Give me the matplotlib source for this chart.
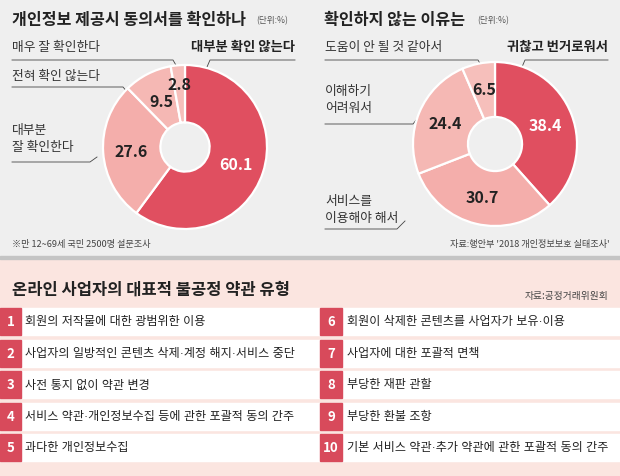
import matplotlib.pyplot as plt
from matplotlib.patches import Rectangle

plt.rcParams['font.family'] = ['Noto Sans CJK KR', 'DejaVu Sans']

# --- Data ---
left_labels = ['대부분 확인 않는다', '대부분\n잘 확인한다', '전혀 확인 않는다', '매우 잘 확인한다']
left_values = [60.1, 27.6, 9.5, 2.8]

right_labels = ['귀찮고 번거로워서', '서비스를\n이용해야 해서', '이해하기\n어려워서', '도움이 안 될 것 같아서']
right_values = [38.4, 30.7, 24.4, 6.5]

terms_left = ['회원의 저작물에 대한 광범위한 이용',
              '사업자의 일방적인 콘텐츠 삭제·계정 해지·서비스 중단',
              '사전 통지 없이 약관 변경',
              '서비스 약관·개인정보수집 등에 관한 포괄적 동의 간주',
              '과다한 개인정보수집']
terms_right = ['회원이 삭제한 콘텐츠를 사업자가 보유·이용',
               '사업자에 대한 포괄적 면책',
               '부당한 재판 관할',
               '부당한 환불 조항',
               '기본 서비스 약관·추가 약관에 관한 포괄적 동의 간주']

# --- Style ---
W, H = 620, 477
RED = '#e04f60'
BOX_RED = '#d84a5b'
PINKS = ['#f4aeab', '#f5b8b4', '#f6bfbb']
GRAY_BG = '#efefef'
PINK_BG = '#fbe5e0'
LINE = '#444444'
TXT = '#222222'
ROW_FONT = ['Liberation Sans', 'Noto Sans CJK KR']

fig = plt.figure(figsize=(W / 100, H / 100), dpi=100)
ax = fig.add_axes([0, 0, 1, 1])
ax.set_xlim(0, W)
ax.set_ylim(H, 0)
ax.axis('off')

# backgrounds
ax.add_patch(Rectangle((0, 0), W, 258, color=GRAY_BG, zorder=0))
ax.add_patch(Rectangle((0, 257), W, 3, color='#c4c4c4', zorder=1))
ax.add_patch(Rectangle((0, 260), W, H - 260, color=PINK_BG, zorder=0))


def donut(cx, cy, r, values, hole, dists):
    pax = fig.add_axes([(cx - r) / W, (H - cy - r) / H, 2 * r / W, 2 * r / H])
    colors = [RED] + PINKS
    wedges, _, autotexts = pax.pie(
        values, colors=colors, startangle=90, counterclock=False,
        radius=1, autopct=lambda p: '', pctdistance=1.0,
        wedgeprops=dict(width=1 - hole, edgecolor='white', linewidth=1.6))
    for i, (t, v) in enumerate(zip(autotexts, values)):
        x, y = t.get_position()
        t.set_position((x * dists[i], y * dists[i]))
        t.set_text(f'{v:.1f}')
        t.set_fontsize(11.5)
        t.set_fontweight('bold')
        t.set_color('white' if i == 0 else '#222222')
    pax.set_xlim(-1, 1)
    pax.set_ylim(-1, 1)
    pax.axis('off')


donut(185, 148, 82, left_values, 0.30, [0.66, 0.66, 0.63, 0.77])
donut(495, 145, 82, right_values, 0.33, [0.66, 0.66, 0.66, 0.68])

# titles
ax.text(12, 20, '개인정보 제공시 동의서를 확인하나', fontsize=11.6, fontweight='bold',
        color=TXT, va='center')
ax.text(256, 21, '(단위:%)', fontsize=6.2, color='#555555', va='center')
ax.text(324, 20, '확인하지 않는 이유는', fontsize=11.6, fontweight='bold',
        color=TXT, va='center')
ax.text(477, 21, '(단위:%)', fontsize=6.2, color='#555555', va='center')


def leader(pts):
    xs, ys = zip(*pts)
    ax.plot(xs, ys, color=LINE, lw=0.6, zorder=3)


lab_kw = dict(fontsize=9.2, color='#333333', va='center')
bold_kw = dict(fontsize=9.6, fontweight='bold', color=TXT, va='center', ha='right')
# left donut labels
ax.text(12, 47, left_labels[3], **lab_kw)
leader([(12, 61), (173, 61), (177, 68)])
ax.text(12, 76, left_labels[2], **lab_kw)
leader([(12, 88), (123, 88), (128, 94)])
ax.text(12, 139, left_labels[1], linespacing=1.45, **lab_kw)
leader([(12, 163), (90, 163), (97, 158)])
ax.text(295, 47, left_labels[0], **bold_kw)
leader([(295, 61), (210, 61), (207, 68)])

# right donut labels
ax.text(325, 47, right_labels[3], **lab_kw)
leader([(325, 61), (478, 61), (482, 68)])
ax.text(325, 100, right_labels[2], linespacing=1.45, **lab_kw)
leader([(325, 125), (413, 125), (417, 120)])
ax.text(325, 210, right_labels[1], linespacing=1.45, **lab_kw)
leader([(325, 230), (397, 230), (405, 222)])
ax.text(608, 47, right_labels[0], **bold_kw)
leader([(608, 61), (525, 61), (522, 68)])

# footnotes
ax.text(12, 245, '※만 12~69세 국민 2500명 설문조사', fontsize=6.6, color='#444444', va='center')
ax.text(610, 245, "자료:행안부 '2018 개인정보보호 실태조사'", fontsize=6.6, color='#444444',
        va='center', ha='right')

# --- bottom table ---
ax.text(12, 290, '온라인 사업자의 대표적 불공정 약관 유형', fontsize=11.9, fontweight='bold',
        color=TXT, va='center')
ax.text(608, 296, '자료:공정거래위원회', fontsize=7, color='#444444', va='center', ha='right')

row_top = 309
row_h = 27
pitch = 31.5
for i, (tl, tr) in enumerate(zip(terms_left, terms_right)):
    y0 = row_top + i * pitch
    yc = y0 + row_h / 2
    ax.add_patch(Rectangle((0, y0), W, row_h, color='white', zorder=1))
    ax.add_patch(Rectangle((0, y0), 21, row_h, color=BOX_RED, zorder=2))
    ax.add_patch(Rectangle((320, y0), 22, row_h, color=BOX_RED, zorder=2))
    ax.text(10.5, yc, str(i + 1), fontsize=9.5, fontweight='bold', color='white',
            ha='center', va='center', zorder=3)
    ax.text(331, yc, str(i + 6), fontsize=9.5, fontweight='bold', color='white',
            ha='center', va='center', zorder=3)
    ax.text(25, yc, tl, fontsize=8.7, color=TXT, va='center', zorder=3, family=ROW_FONT)
    ax.text(347, yc, tr, fontsize=8.7, color=TXT, va='center', zorder=3, family=ROW_FONT)

fig.savefig('out.png', dpi=100)
